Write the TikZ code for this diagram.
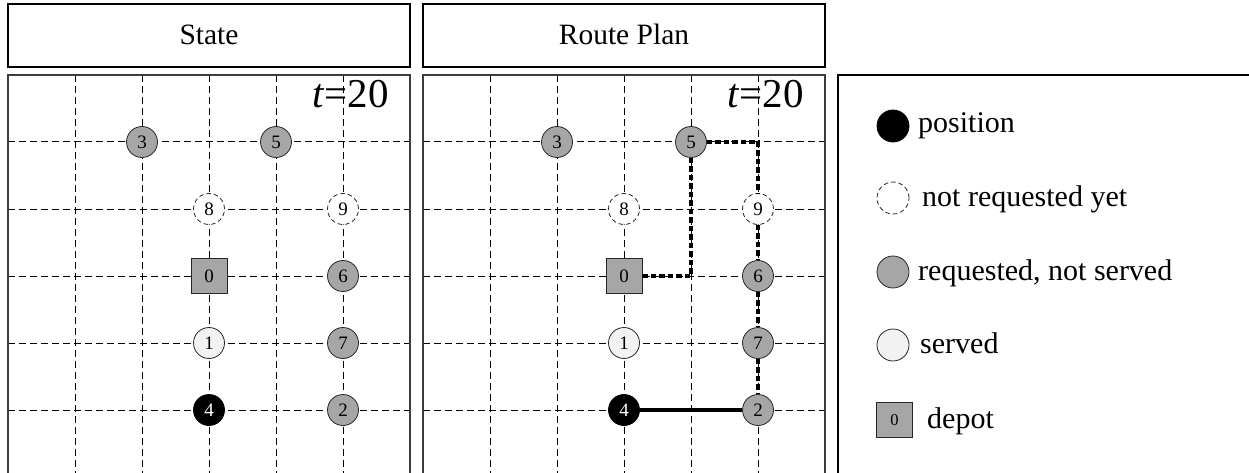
\documentclass[tikz,border=0pt]{standalone}
\usepackage{fontspec}
\setmainfont{Liberation Serif}
\definecolor{reqgray}{RGB}{166,166,166}
\definecolor{servgray}{RGB}{242,242,242}
\definecolor{framegray}{RGB}{60,60,60}
\tikzset{
  gridline/.style={black, line width=1pt, dash pattern=on 7pt off 4pt},
  framebox/.style={draw=framegray, line width=1.1pt},
  titlebox/.style={draw=black, line width=1.1pt},
  basenode/.style={circle, minimum size=31pt, inner sep=0pt, line width=0.8pt,
    font=\fontsize{19}{19}\selectfont},
  reqnode/.style={basenode, draw=black!85, fill=reqgray},
  notreqnode/.style={basenode, draw=black!85, fill=white, dash pattern=on 4.5pt off 3pt},
  servnode/.style={basenode, draw=black!85, fill=servgray},
  posnode/.style={basenode, draw=black, fill=black, text=white},
  depotnode/.style={rectangle, minimum width=36pt, minimum height=35pt, inner sep=0pt,
    draw=black!85, fill=reqgray, line width=0.8pt, font=\fontsize{19}{19}\selectfont},
  route/.style={line width=3.5pt, dash pattern=on 5.5pt off 3pt},
  solidroute/.style={line width=3.5pt},
  titletext/.style={font=\fontsize{29.5}{29.5}\selectfont, inner sep=0pt, anchor=base},
  timetext/.style={font=\fontsize{41}{41}\selectfont, inner sep=0pt, anchor=base east},
  legtext/.style={font=\fontsize{30}{30}\selectfont, inner sep=0pt, anchor=base west},
}
\newcommand\drawpanel[3]{% #1 xshift, #2 prefix, #3 title
  \begin{scope}[xshift=#1]
    \node[titletext] (#2title) at (209,45) {#3};
    \draw[titlebox] (8,4) rectangle (410,67);
    \foreach \x in {75,142,209,276,343} {\draw[gridline] (\x,75) -- (\x,480);}
    \foreach \y in {142,209,276,343,410} {\draw[gridline] (8,\y) -- (410,\y);}
    \draw[framebox] (8,75) rectangle (410,480);
    \node[timetext] (#2time) at (389,108) {\textit{t}=20};
    \node[reqnode] (#2n3) at (142,142) {3};
    \node[reqnode] (#2n5) at (276,142) {5};
    \node[notreqnode] (#2n8) at (209,209) {8};
    \node[notreqnode] (#2n9) at (343,209) {9};
    \node[depotnode] (#2n0) at (209,276) {0};
    \node[reqnode] (#2n6) at (343,276) {6};
    \node[servnode] (#2n1) at (209,343) {1};
    \node[reqnode] (#2n7) at (343,343) {7};
    \node[posnode] (#2n4) at (209,410) {4};
    \node[reqnode] (#2n2) at (343,410) {2};
  \end{scope}}
\begin{document}
\begin{tikzpicture}[x=1pt, y=-1pt]
  \useasboundingbox (0,0) rectangle (1249,473);
  \clip (0,0) rectangle (1249,473);
  \drawpanel{0pt}{s}{State}
  \drawpanel{415pt}{r}{Route Plan}
  % route plan
  \draw[route] (rn0) -- (rn0 -| rn5) -- (rn5);
  \draw[route] (rn5) -- (rn5 -| rn9) -- (rn9);
  \draw[route] (rn9) -- (rn6);
  \draw[route] (rn6) -- (rn7);
  \draw[route] (rn7) -- (rn2);
  \draw[solidroute] (rn4) -- (rn2);
  % legend
  \draw[titlebox] (838,75) rectangle (1262,485);
  \node[posnode, minimum size=32pt] (lpos) at (893,126) {};
  \node[legtext] (tpos) at (918,133) {position};
  \node[notreqnode, minimum size=32pt] (lnot) at (893,198) {};
  \node[legtext] (tnot) at (922,206) {not requested yet};
  \node[reqnode, minimum size=32pt] (lreq) at (893,272) {};
  \node[legtext] (treq) at (918,280) {requested, not served};
  \node[servnode, minimum size=32pt] (lserv) at (893,345) {};
  \node[legtext] (tserv) at (920,353) {served};
  \node[depotnode, font=\fontsize{16.5}{16.5}\selectfont] (ldep) at (894.5,420) {0};
  \node[legtext] (tdep) at (927,428) {depot};
\end{tikzpicture}
\end{document}
